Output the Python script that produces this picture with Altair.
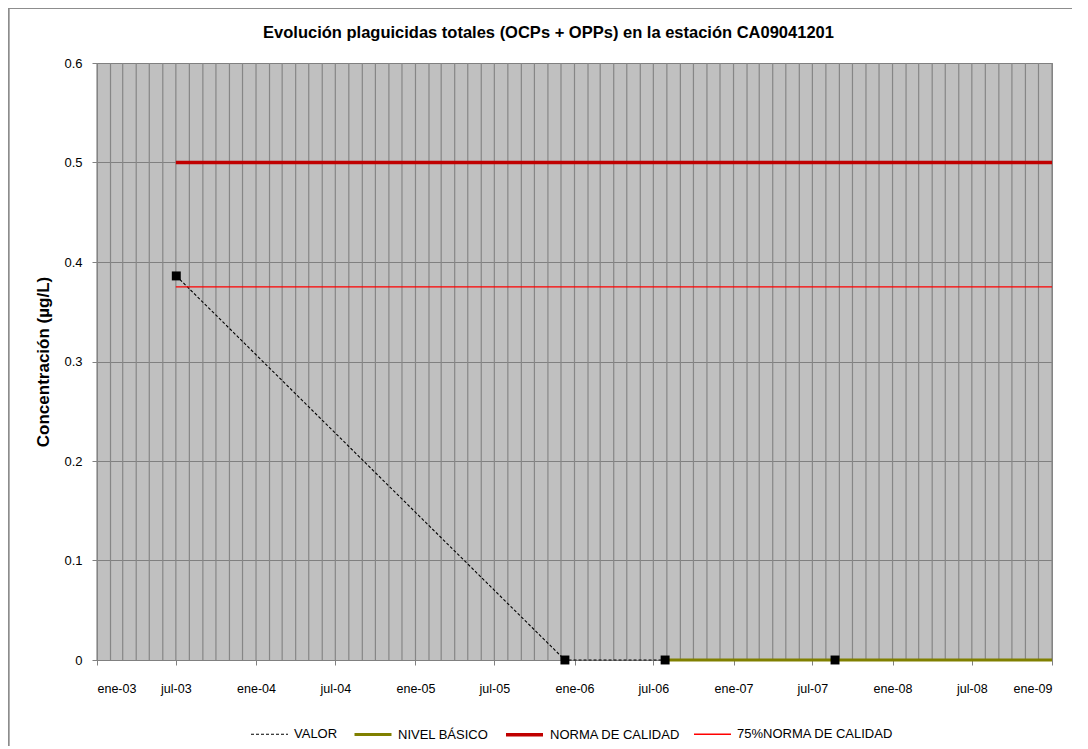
import altair as alt
import pandas as pd

# ---- data ----
valor_fechas = ["2003-07-02", "2005-12-10", "2006-07-28", "2007-08-22"]
valor_vals = [0.386, 0.0, 0.0, 0.0]

nivel_fechas = ["2006-07-28", "2009-01-01"]
nivel_vals = [0.0, 0.0]

norma_fechas = ["2003-07-01", "2009-01-01"]
norma_vals = [0.5, 0.5]

norma75_fechas = ["2003-07-01", "2009-01-01"]
norma75_vals = [0.375, 0.375]

series = ["VALOR", "NIVEL BÁSICO", "NORMA DE CALIDAD", "75%NORMA DE CALIDAD"]
colores = ["#000000", "#808000", "#C00000", "#FF0000"]
anchos = [1.1, 3, 3.5, 1.4]
guiones = [[3, 2], [1, 0], [1, 0], [1, 0]]

meses_grid = pd.date_range("2003-01-01", "2009-01-01", freq="MS").strftime("%Y-%m-%d").tolist()
ticks_x = pd.date_range("2003-01-01", "2009-01-01", freq="6MS").strftime("%Y-%m-%d").tolist()

rows = []
for s, f, v in [(series[0], valor_fechas, valor_vals), (series[1], nivel_fechas, nivel_vals),
                (series[2], norma_fechas, norma_vals), (series[3], norma75_fechas, norma75_vals)]:
    for ff, vv in zip(f, v):
        rows.append({"serie": s, "fecha": ff, "valor": vv})
df = pd.DataFrame(rows)
df_valor = pd.DataFrame({"fecha": valor_fechas, "valor": valor_vals})
df_grid = pd.DataFrame({"fecha": meses_grid})

W, H = 955, 597
FONT = "Liberation Sans"

xscale = alt.Scale(type="utc", domain=[alt.DateTime(year=2003, month=1, date=1, utc=True),
                                       alt.DateTime(year=2009, month=1, date=1, utc=True)])
yscale = alt.Scale(domain=[0, 0.6], nice=False)

x_axis = alt.Axis(
    values=[alt.DateTime(year=int(t[:4]), month=int(t[5:7]), date=1, utc=True) for t in ticks_x],
    labelExpr="(utcmonth(datum.value)==0 ? 'ene-' : 'jul-') + utcFormat(datum.value, '%y')",
    grid=False, title=None, tickSize=5, tickColor="#808080", domainColor="#808080",
    labelPadding=17, labelFontSize=12.5, labelFont=FONT, labelColor="#000000",
)
y_axis = alt.Axis(
    values=[0, 0.1, 0.2, 0.3, 0.4, 0.5, 0.6], format=".1~f",
    title="Concentración (µg/L)", titleFontSize=17, titleFont=FONT, titleFontWeight="bold",
    titleColor="#000000", titlePadding=11,
    grid=True, gridColor="#808080", gridWidth=1,
    tickSize=5, tickColor="#808080", domainColor="#808080",
    labelPadding=10, labelFontSize=13, labelFont=FONT, labelColor="#000000",
)

grid = alt.Chart(df_grid).mark_rule(color="#868686", strokeWidth=1.2).encode(
    x=alt.X("fecha:T", scale=xscale, axis=x_axis),
    y=alt.value(0), y2=alt.value(H),
)

lineas = alt.Chart(df).mark_line().encode(
    x=alt.X("fecha:T", scale=xscale, axis=x_axis),
    y=alt.Y("valor:Q", scale=yscale, axis=y_axis),
    detail="serie:N",
    color=alt.Color("serie:N", scale=alt.Scale(domain=series, range=colores),
                    legend=alt.Legend(title=None, orient="none", direction="horizontal",
                                      legendX=153, legendY=651, symbolType="stroke",
                                      symbolSize=1369, labelFont=FONT, labelFontSize=13,
                                      labelColor="#000000", columnPadding=10, labelOffset=5,
                                      symbolOpacity=1)),
    strokeDash=alt.StrokeDash("serie:N", scale=alt.Scale(domain=series, range=guiones), legend=alt.Legend(title=None)),
    strokeWidth=alt.StrokeWidth("serie:N", scale=alt.Scale(type="ordinal", domain=series, range=anchos),
                                legend=alt.Legend(title=None)),
)

puntos = alt.Chart(df_valor).mark_point(shape="square", filled=True, size=80, color="#000000", opacity=1).encode(
    x=alt.X("fecha:T", scale=xscale),
    y=alt.Y("valor:Q", scale=yscale),
)

marco_top = alt.Chart(df_valor).mark_rule(color="#8c8c8c", strokeWidth=1.5).encode(
    x=alt.value(-88.5), x2=alt.value(W + 40), y=alt.value(-55))
marco_left = alt.Chart(df_valor).mark_rule(color="#8c8c8c", strokeWidth=1.5).encode(
    x=alt.value(-88.5), y=alt.value(-55), y2=alt.value(H + 100))

chart = alt.layer(grid, lineas, puntos, marco_top, marco_left).properties(
    width=W, height=H,
    title=alt.TitleParams(
        "Evolución plaguicidas totales (OCPs + OPPs) en la estación CA09041201",
        font=FONT, fontSize=16.5, fontWeight="bold", color="#000000",
        anchor="middle", dx=-26, offset=-34,
    ),
    autosize=alt.AutoSizeParams(type="none"),
    padding={"left": 89, "top": 55, "right": 20, "bottom": 86},
).configure(background="#FFFFFF").configure_view(
    fill="#C0C0C0", stroke="#808080", strokeWidth=1
)

chart.save("out.html", embed_options={"renderer": "svg", "actions": False})
